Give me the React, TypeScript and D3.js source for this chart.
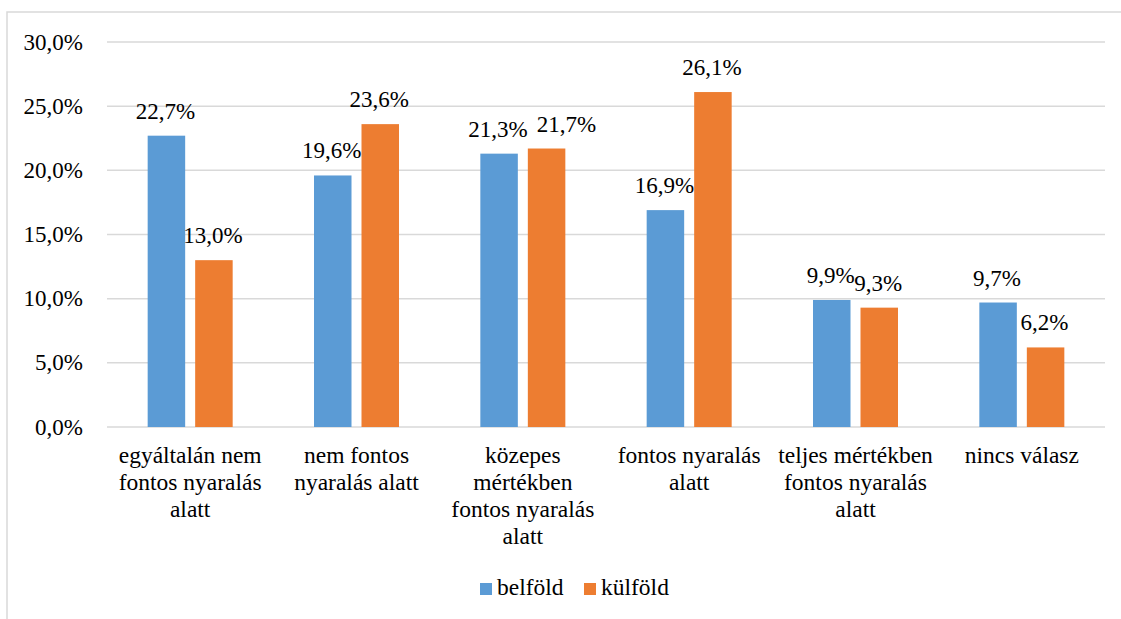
import React from "react";
import * as d3 from "d3";

const categories: string[][] = [
  ["egyáltalán nem", "fontos nyaralás", "alatt"],
  ["nem fontos", "nyaralás alatt"],
  ["közepes", "mértékben", "fontos nyaralás", "alatt"],
  ["fontos nyaralás", "alatt"],
  ["teljes mértékben", "fontos nyaralás", "alatt"],
  ["nincs válasz"],
];
const seriesNames = ["belföld", "külföld"];
const belfold = [22.7, 19.6, 21.3, 16.9, 9.9, 9.7];
const kulfold = [13.0, 23.6, 21.7, 26.1, 9.3, 6.2];
const yTicks = [0, 5, 10, 15, 20, 25, 30];

const colors = ["#5b9bd5", "#ed7d31"];
// manual label nudges (series index, category index, dx)
const labelNudges = [{ s: 1, c: 2, dx: 21 }];

const W = 1121;
const H = 619;
const FONT = "Liberation Serif";
const FS_NUM = 23;
const FS_TXT = 23.5;

const fmt = (v: number) => v.toFixed(1).replace(".", ",") + "%";

function T(props: any) {
  const { children, size, ...rest } = props;
  const fs = size || FS_NUM;
  return (
    <text fontFamily={FONT} fontSize={fs} fill="#000" style={{ fontFamily: '"Liberation Serif"', fontSize: fs }} {...rest}>
      {children}
    </text>
  );
}

export default function App() {
  const left = 107;
  const right = 1105;
  const top = 42;
  const bottom = 427;
  const keys = categories.map((_, i) => String(i));
  const x0 = d3.scaleBand<string>().domain(keys).range([left, right]).padding(0);
  const bw = x0.bandwidth();
  const group = 85;
  const x1 = d3
    .scaleBand<string>()
    .domain(seriesNames)
    .range([(bw - group) / 2, (bw + group) / 2])
    .paddingInner(10 / 47.5)
    .paddingOuter(0);
  const y = d3.scaleLinear().domain([0, 30]).range([bottom, top]);
  const series = [belfold, kulfold];

  const texts: React.ReactNode[] = [];
  yTicks.forEach((t) =>
    texts.push(
      <T key={`t${t}`} x={83} y={y(t) + 7.5} textAnchor="end">
        {fmt(t)}
      </T>
    )
  );
  series.forEach((vals, s) =>
    vals.forEach((v, c) => {
      const bx = (x0(String(c)) as number) + (x1(seriesNames[s]) as number);
      const w = x1.bandwidth();
      const nudge = labelNudges.find((n) => n.s === s && n.c === c);
      const dx = nudge ? nudge.dx : 0;
      texts.push(
        <T key={`l${s}-${c}`} x={bx + w / 2 - 1 + dx} y={y(v) - 17} textAnchor="middle">
          {fmt(v)}
        </T>
      );
    })
  );
  categories.forEach((lines, c) => {
    const cx = (x0(String(c)) as number) + bw / 2;
    lines.forEach((ln, i) =>
      texts.push(
        <T key={`c${c}-${i}`} x={cx} y={463 + i * 27} textAnchor="middle" size={FS_TXT}>
          {ln}
        </T>
      )
    );
  });
  texts.push(
    <T key="lg0" x={497} y={595} size={FS_TXT}>
      {seriesNames[0]}
    </T>
  );
  texts.push(
    <T key="lg1" x={601} y={595} size={FS_TXT}>
      {seriesNames[1]}
    </T>
  );

  return (
    <svg width={W} height={H} style={{ position: "absolute", left: 0, top: 0 }}>
      <rect x={0} y={0} width={W} height={H} fill="#fff" />
      <rect x={7} y={12} width={W + 20} height={H + 20} fill="none" stroke="#d9d9d9" strokeWidth={1.5} />
      {yTicks.map((t) => (
        <line key={t} x1={left} x2={right} y1={y(t)} y2={y(t)} stroke="#d9d9d9" strokeWidth={1.5} />
      ))}
      {series.map((vals, s) =>
        vals.map((v, c) => {
          const bx = (x0(String(c)) as number) + (x1(seriesNames[s]) as number);
          return (
            <rect
              key={`${s}-${c}`}
              x={bx}
              y={y(v)}
              width={x1.bandwidth()}
              height={y(0) - y(v)}
              fill={colors[s]}
            />
          );
        })
      )}
      <rect x={480} y={583} width={12} height={12} fill={colors[0]} />
      <rect x={584} y={583} width={12} height={12} fill={colors[1]} />
      {texts}
    </svg>
  );
}
